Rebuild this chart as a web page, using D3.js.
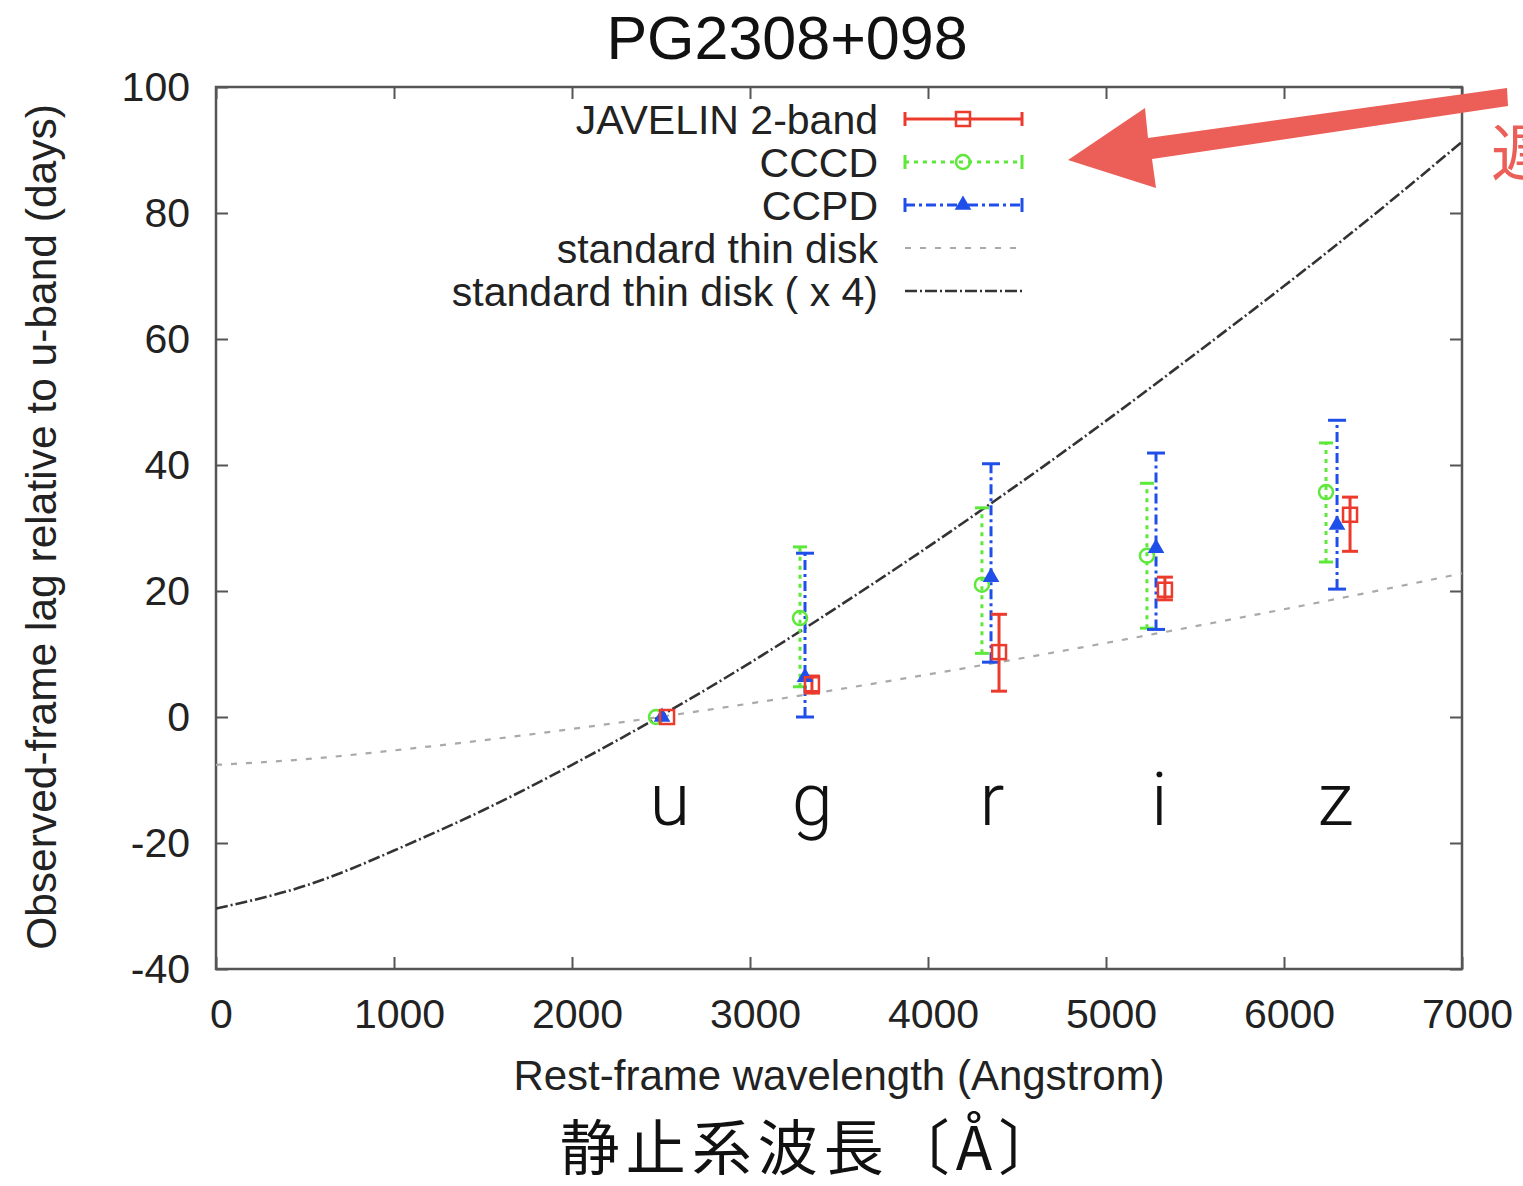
<!DOCTYPE html>
<html><head><meta charset="utf-8">
<script src="https://cdn.jsdelivr.net/npm/d3@7"></script>
<style>body{margin:0;background:#fff;overflow:hidden}</style>
</head><body>
<svg id="c" width="1523" height="1186"></svg>
<script>
// ---- data ----
const bands = ["u","g","r","i","z"];
const bandLabelX = [2550, 3350, 4360, 5300, 6290];
const javelinX  = [2534, 3348, 4399, 5331, 6371];
const javelinY  = [0, 5.2, 10.3, 20.2, 32.1];
const javelinLo = [0, 3.8, 4.1, 18.6, 26.3];
const javelinHi = [0, 6.5, 16.3, 22.2, 34.9];
const cccdX  = [2472, 3281, 4303, 5230, 6236];
const cccdY  = [0, 15.7, 21.0, 25.6, 35.7];
const cccdLo = [0, 4.8, 10.1, 14.1, 24.6];
const cccdHi = [0, 27.0, 33.2, 37.1, 43.5];
const ccpdX  = [2506, 3309, 4354, 5281, 6298];
const ccpdY  = [0, 6.3, 22.2, 26.8, 30.5];
const ccpdLo = [0, 0, 8.7, 13.9, 20.3];
const ccpdHi = [0, 26.0, 40.2, 41.9, 47.1];
const curveX    = [0,500,1000,1500,2000,2500,3000,3500,4000,4500,5000,5500,6000,6500,7000];
const thinDisk  = [-7.6,-6.7,-5.3,-3.7,-1.9,0.05,2.15,4.4,6.75,9.2,11.75,14.4,17.1,19.9,22.8];
const thinDisk4 = [-30.4,-26.8,-21.2,-14.8,-7.6,0.2,8.6,17.6,27.0,36.8,47.0,57.6,68.4,79.6,91.3];
const xTicks = [0,1000,2000,3000,4000,5000,6000,7000];
const yTicks = [-40,-20,0,20,40,60,80,100];
const legendLabels = ["JAVELIN 2-band","CCCD","CCPD","standard thin disk","standard thin disk ( x 4)"];

const svg = d3.select("#c");
const L=216, R=1462, T=87, B=969;
const x = d3.scaleLinear().domain([0,7000]).range([L,R]);
const y = d3.scaleLinear().domain([-40,100]).range([B,T]);
const font = "'Liberation Sans', Arial, sans-serif";
const RED="#ec3a2c", GREEN="#5ee83a", BLUE="#1f4fe8", AXC="#555";
const fmt = d => String(d);

// axes (mirrored, inward ticks)
const tl = 12;
svg.append("g").attr("transform",`translate(0,${B})`)
  .call(d3.axisBottom(x).tickValues(xTicks).tickSize(-tl).tickPadding(20).tickFormat(fmt))
  .call(g=>{g.select(".domain").remove();g.selectAll("line").attr("stroke",AXC).attr("stroke-width",2);
    g.selectAll("text").attr("font-family",font).attr("font-size",41).attr("fill","#222").attr("dy","0.95em").attr("dx",5);});
svg.append("g").attr("transform",`translate(0,${T})`)
  .call(d3.axisTop(x).tickValues(xTicks).tickSize(-tl).tickFormat(""))
  .call(g=>{g.select(".domain").remove();g.selectAll("line").attr("stroke",AXC).attr("stroke-width",2);});
svg.append("g").attr("transform",`translate(${L},0)`)
  .call(d3.axisLeft(y).tickValues(yTicks).tickSize(-tl).tickPadding(26).tickFormat(fmt))
  .call(g=>{g.select(".domain").remove();g.selectAll("line").attr("stroke",AXC).attr("stroke-width",2);
    g.selectAll("text").attr("font-family",font).attr("font-size",41).attr("fill","#222");});
svg.append("g").attr("transform",`translate(${R},0)`)
  .call(d3.axisRight(y).tickValues(yTicks).tickSize(-tl).tickFormat(""))
  .call(g=>{g.select(".domain").remove();g.selectAll("line").attr("stroke",AXC).attr("stroke-width",2);});
svg.append("rect").attr("x",L).attr("y",T).attr("width",R-L).attr("height",B-T)
  .attr("fill","none").attr("stroke",AXC).attr("stroke-width",2.5);

// clip
svg.append("clipPath").attr("id","clip").append("rect").attr("x",L).attr("y",T).attr("width",R-L).attr("height",B-T);
const plot = svg.append("g").attr("clip-path","url(#clip)");

const line = d3.line().x(d=>x(d[0])).y(d=>y(d[1])).curve(d3.curveNatural);
plot.append("path").attr("d",line(curveX.map((v,i)=>[v,thinDisk[i]])))
  .attr("fill","none").attr("stroke","#aaa").attr("stroke-width",2.2).attr("stroke-dasharray","6,9");
plot.append("path").attr("d",line(curveX.map((v,i)=>[v,thinDisk4[i]])))
  .attr("fill","none").attr("stroke","#333").attr("stroke-width",2.6).attr("stroke-dasharray","12,3,2,3");

// error bars
function errbars(xs,ys,lo,hi,color,dash,capw){
  const g = plot.append("g");
  xs.forEach((xv,i)=>{
    if(hi[i]===lo[i]) return;
    g.append("line").attr("x1",x(xv)).attr("x2",x(xv)).attr("y1",y(lo[i])).attr("y2",y(hi[i]))
      .attr("stroke",color).attr("stroke-width",3).attr("stroke-dasharray",dash);
    [lo[i],hi[i]].forEach(v=>g.append("line").attr("x1",x(xv)-capw).attr("x2",x(xv)+capw)
      .attr("y1",y(v)).attr("y2",y(v)).attr("stroke",color).attr("stroke-width",3));
  });
  return g;
}
errbars(cccdX,cccdY,cccdLo,cccdHi,GREEN,"4,5",7);
errbars(ccpdX,ccpdY,ccpdLo,ccpdHi,BLUE,"10,4,3,4",9);
errbars(javelinX,javelinY,javelinLo,javelinHi,RED,null,8);

const tri = d3.symbol().type(d3.symbolTriangle).size(120);
function circ(g,cx,cy){g.append("circle").attr("cx",cx).attr("cy",cy).attr("r",7).attr("fill","none").attr("stroke",GREEN).attr("stroke-width",2.5);}
function sq(g,cx,cy){g.append("rect").attr("x",cx-7).attr("y",cy-7).attr("width",14).attr("height",14).attr("fill","none").attr("stroke",RED).attr("stroke-width",2.5);}
function tr(g,cx,cy){g.append("path").attr("d",tri()).attr("transform",`translate(${cx},${cy})`).attr("fill",BLUE);}
cccdX.forEach((v,i)=>circ(plot,x(v),y(cccdY[i])));
ccpdX.forEach((v,i)=>tr(plot,x(v),y(ccpdY[i])));
javelinX.forEach((v,i)=>sq(plot,x(v),y(javelinY[i])));

// band labels
svg.append("g").selectAll("text").data(bands).join("text")
  .attr("x",(d,i)=>x(bandLabelX[i])).attr("y",825).attr("text-anchor","middle")
  .attr("font-family","Roboto, 'Liberation Sans', sans-serif").attr("font-weight",300)
  .attr("font-size",74).attr("fill","#111").text(d=>d);

// legend
const lg = svg.append("g");
const rows=[119,162,205,248,291], lx1=905, lx2=1022, lxm=963;
legendLabels.forEach((t,i)=>lg.append("text").attr("x",878).attr("y",rows[i]).attr("dy","0.36em")
  .attr("text-anchor","end").attr("font-family",font).attr("font-size",41).attr("fill","#222").text(t));
function legBar(yy,color,dash){
  lg.append("line").attr("x1",lx1).attr("x2",lx2).attr("y1",yy).attr("y2",yy).attr("stroke",color).attr("stroke-width",3).attr("stroke-dasharray",dash);
  [lx1,lx2].forEach(xx=>lg.append("line").attr("x1",xx).attr("x2",xx).attr("y1",yy-7).attr("y2",yy+7).attr("stroke",color).attr("stroke-width",3));
}
legBar(rows[0],RED,null); sq(lg,lxm,rows[0]);
legBar(rows[1],GREEN,"4,5"); circ(lg,lxm,rows[1]);
legBar(rows[2],BLUE,"10,4,3,4"); tr(lg,lxm,rows[2]);
lg.append("line").attr("x1",lx1).attr("x2",lx2).attr("y1",rows[3]).attr("y2",rows[3]).attr("stroke","#aaa").attr("stroke-width",2.2).attr("stroke-dasharray","6,9");
lg.append("line").attr("x1",lx1).attr("x2",lx2).attr("y1",rows[4]).attr("y2",rows[4]).attr("stroke","#333").attr("stroke-width",2.6).attr("stroke-dasharray","12,3,2,3");

// titles
svg.append("text").attr("x",787).attr("y",59).attr("text-anchor","middle").attr("font-family",font)
  .attr("font-size",61).attr("fill","#111").text("PG2308+098");
svg.append("text").attr("x",839).attr("y",1090).attr("text-anchor","middle").attr("font-family",font)
  .attr("font-size",42).attr("fill","#222").text("Rest-frame wavelength (Angstrom)");
svg.append("text").attr("transform","translate(56,527) rotate(-90)").attr("text-anchor","middle").attr("font-family",font)
  .attr("font-size",42.5).attr("fill","#222").text("Observed-frame lag relative to u-band (days)");
svg.append("text").attr("x",812).attr("y",1170).attr("text-anchor","middle").attr("font-family","'Noto Sans CJK JP', sans-serif")
  .attr("font-size",60).attr("letter-spacing",6).attr("fill","#111").text("静止系波長〔Å〕");

// annotation arrow
svg.append("polygon").attr("points","1507,88 1508,106 1152,159 1156,188 1068,160 1145,108 1148,138")
  .attr("fill","#ec5f58");
svg.append("text").attr("x",1491).attr("y",176).attr("font-family","'Noto Sans CJK JP', sans-serif")
  .attr("font-size",62).attr("fill","#ec5f58").text("遅");
</script>
</body></html>
